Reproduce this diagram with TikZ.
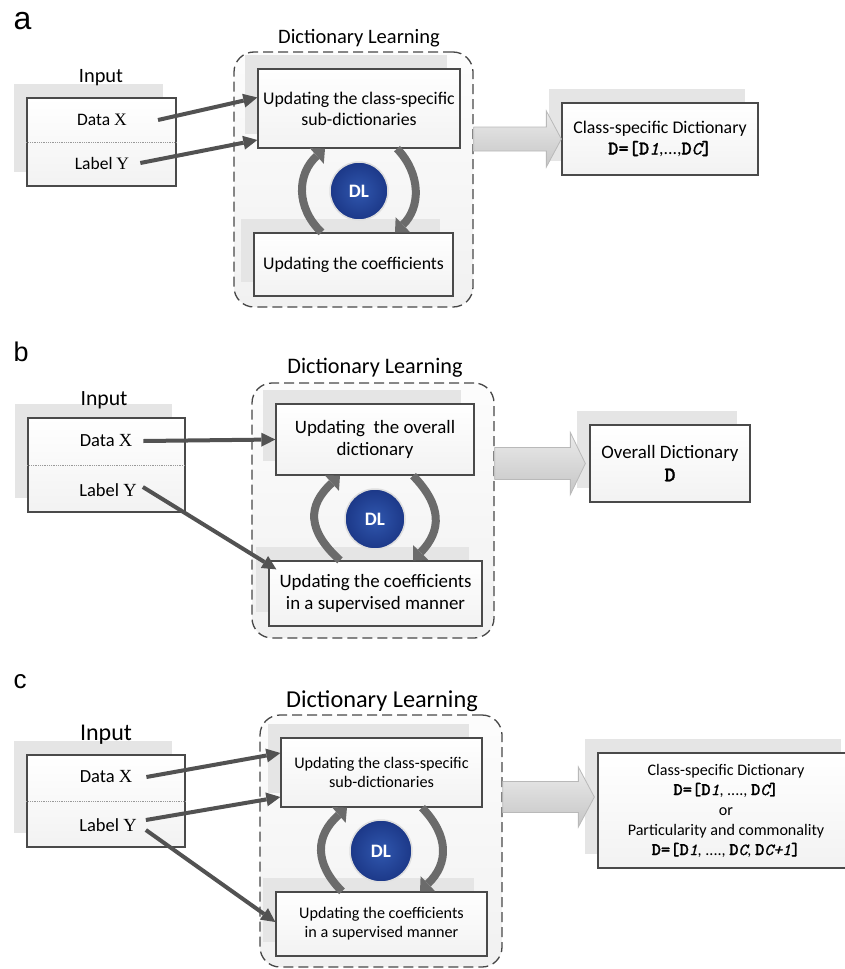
\documentclass[tikz,border=0pt]{standalone}
\usepackage{fontspec}
\setmainfont{Carlito}
\newfontfamily\arialf{Liberation Sans}
\newfontfamily\timesf{Liberation Serif}
\newfontfamily\monobf[FakeBold=1.2,Scale=1.1]{lmmonolt10-bold.otf}
\newfontfamily\monoit[FakeBold=1,Scale=1.05]{lmmono10-italic.otf}
\usetikzlibrary{shadows}
\usetikzlibrary{arrows.meta,calc}

\definecolor{dlin}{HTML}{3057AE}
\definecolor{dlout}{HTML}{1C3888}
\definecolor{boxline}{HTML}{4A4A4A}

\newcommand{\ttD}[1]{{\monobf #1}}
\newcommand{\ttI}[1]{{\monoit #1}}

% wide grey arrow: from frame #1 to tip #2, half body #3, half head #4, head length #5
\newcommand{\fatarrow}[5]{%
  \path[fatarr] let \p1=(#1.east), \p2=(#2) in
    (\x1,\y2+#3pt) -- (\x2-#5pt,\y2+#3pt) -- (\x2-#5pt,\y2+#4pt) -- (\x2,\y2)
    -- (\x2-#5pt,\y2-#4pt) -- (\x2-#5pt,\y2-#3pt) -- (\x1,\y2-#3pt) -- cycle;}

\tikzset{
  stepbox/.style={draw=boxline, line width=1.3pt, top color=white, bottom color=gray!10,
    align=center, inner sep=2pt,
    general shadow={fill=gray!20, shadow xshift=-13pt, shadow yshift=14pt}},
  dlframe/.style={draw=black!72, line width=1.3pt, dash pattern=on 10pt off 5pt,
    rounded corners=20pt, top color=gray!2, bottom color=gray!11},
  dlball/.style={circle, inner color=dlin, outer color=dlout, text=white,
    font=\bfseries\fontsize{19}{19}\selectfont, draw=gray!25, line width=1.5pt},
  feed/.style={draw=black!68, line width=4pt, -{Triangle[length=14pt,width=14pt,line width=0pt]}},
  loopar/.style={draw=black!58, line width=8pt, -{Triangle[length=11pt,width=21pt,line width=0pt]}},
  fatarr/.style={draw=gray!55, line width=0.8pt, top color=gray!16, bottom color=gray!45},
  divline/.style={densely dotted, draw=gray!80, line width=0.8pt},
  panel/.style={anchor=base west},
  title/.style={anchor=base},
  txt/.style={inner sep=1pt},
}

\begin{document}
\begin{tikzpicture}[x=1pt, y=-1pt]
\path[use as bounding box, fill=white] (0,0) rectangle (844,969);

% ---- a ----
\begin{scope}[font=\fontsize{17.8}{21}\selectfont]
\node[panel, font=\arialf\fontsize{32}{32}\selectfont] (laba) at (10,29) {a};
\node[dlframe, minimum width=239pt, minimum height=255pt] (dla) at (353.5,179.5) {};
\node[title, font=\fontsize{20.5}{24}\selectfont] (tta) at (359,43) {Dictionary Learning};
\node[stepbox, minimum width=202pt, minimum height=79pt] (upa) at (359,108.5) {Updating the class-specific\\sub-dictionaries};
\node[stepbox, minimum width=199pt, minimum height=63pt] (coa) at (353.5,264.5) {Updating the coefficients};
\node[dlball, minimum size=58pt] (dlca) at (359,191) {DL};
\draw[loopar] ([xshift=-32pt]coa.north) .. controls +(-26,-25) and +(-28,25) .. ([xshift=-34pt]upa.south);
\draw[loopar] ([xshift=38pt]upa.south) .. controls +(24,25) and +(26,-25) .. ([xshift=41.5pt]coa.north);

\node[stepbox, minimum width=149pt, minimum height=88pt] (ina) at (101.5,142) {};
\draw[divline] (ina.west) -- (ina.east);
\node[title, font=\fontsize{20.4}{24}\selectfont] (inta) at (101,82) {Input};
\node[txt, font=\fontsize{17.5}{21}\selectfont] (dxa) at (102,120) {Data {\timesf X}};
\node[txt, font=\fontsize{17.5}{21}\selectfont] (lya) at (102,163) {Label {\timesf Y}};
\draw[feed] ([xshift=30pt]dxa.east) -- ([yshift=11pt]upa.west);
\draw[feed] ([xshift=10pt]lya.east) -- ([yshift=-31.5pt]upa.west);

\node[stepbox, minimum width=196pt, minimum height=72pt] (outa) at (660,139) {Class-specific Dictionary\\ \ttD{D=[D}\ttI{1},...,\ttD{D}\ttI{C}\ttD{]}};
\fatarrow{dla}{outa.west}{12}{28}{15}
\end{scope}

% ---- b ----
\begin{scope}[font=\fontsize{18.9}{22.5}\selectfont]
\node[panel, font=\arialf\fontsize{27}{27}\selectfont] (labb) at (10,361) {b};
\node[dlframe, minimum width=242pt, minimum height=255pt] (dlb) at (373,510.5) {};
\node[title, font=\fontsize{22.2}{26}\selectfont] (ttb) at (375,373) {Dictionary Learning};
\node[stepbox, minimum width=198pt, minimum height=71pt] (upb) at (375,439.5) {Updating\ \ the overall\\dictionary};
\node[stepbox, minimum width=213pt, minimum height=65pt] (cob) at (375.5,593.5) {Updating the coefficients\\in a supervised manner};
\node[dlball, minimum size=60pt] (dlcb) at (375,519) {DL};
\draw[loopar] ([xshift=-35.5pt]cob.north) .. controls +(-33,-30) and +(-33,30) .. ([xshift=-35pt]upb.south);
\draw[loopar] ([xshift=38pt]upb.south) .. controls +(29,30) and +(29,-30) .. ([xshift=37.5pt]cob.north);

\node[stepbox, minimum width=157pt, minimum height=94pt] (inb) at (106.5,465) {};
\draw[divline] (inb.west) -- (inb.east);
\node[title, font=\fontsize{21.7}{26}\selectfont] (intb) at (104,405) {Input};
\node[txt, font=\fontsize{18.5}{22}\selectfont] (dxb) at (106,441) {Data {\timesf X}};
\node[txt, font=\fontsize{18.5}{22}\selectfont] (lyb) at (108,490) {Label {\timesf Y}};
\draw[feed] ([xshift=10pt]dxb.east) -- (upb.west);
\draw[feed] ([xshift=5pt,yshift=3pt]lyb.east) -- ([xshift=8pt,yshift=-9pt]cob.north west);

\node[stepbox, minimum width=160pt, minimum height=77pt] (outb) at (670,463.5) {Overall Dictionary\\ \ttD{D}};
\fatarrow{dlb}{[xshift=-4pt]outb.west}{16}{31}{15}
\end{scope}

% ---- c ----
\begin{scope}[font=\fontsize{16.2}{19}\selectfont]
\node[panel, font=\arialf\fontsize{26}{26}\selectfont] (labc) at (10,688) {c};
\node[dlframe, minimum width=242pt, minimum height=252pt] (dlc) at (381,841) {};
\node[title, font=\fontsize{24.3}{28}\selectfont] (ttc) at (382,707) {Dictionary Learning};
\node[stepbox, minimum width=201pt, minimum height=69pt] (upc) at (381.5,772.5) {Updating the class-specific\\sub-dictionaries};
\node[stepbox, minimum width=211pt, minimum height=64pt] (coc) at (381.5,924) {Updating the coefficients\\in a supervised manner};
\node[dlball, minimum size=62pt] (dlcc) at (381,851) {DL};
\draw[loopar] ([xshift=-39.5pt]coc.north) .. controls +(-28,-28) and +(-32,28) .. ([xshift=-34.5pt]upc.south);
\draw[loopar] ([xshift=40.5pt]upc.south) .. controls +(27,28) and +(29,-28) .. ([xshift=38.5pt]coc.north);

\node[stepbox, minimum width=158pt, minimum height=92pt] (inc) at (106,801) {};
\draw[divline] (inc.west) -- (inc.east);
\node[title, font=\fontsize{24}{28}\selectfont] (intc) at (106,740) {Input};
\node[txt, font=\fontsize{18.5}{22}\selectfont] (dxc) at (106,777) {Data {\timesf X}};
\node[txt, font=\fontsize{18.5}{22}\selectfont] (lyc) at (108,825) {Label {\timesf Y}};
\draw[feed] ([xshift=13pt]dxc.east) -- ([yshift=19.5pt]upc.west);
\draw[feed] ([xshift=8pt,yshift=5pt]lyc.east) -- ([yshift=-24.5pt]upc.west);
\draw[feed] ([xshift=8pt,yshift=-5pt]lyc.east) -- ([yshift=2pt]coc.west);

\node[stepbox, minimum width=256pt, minimum height=115pt, font=\fontsize{16.1}{20}\selectfont] (outc) at (726,810.5) {Class-specific Dictionary\\ \ttD{D=[D}\ttI{1}, ...., \ttD{D}\ttI{C}\ttD{]}\\or\\Particularity and commonality\\ \ttD{D=[D}\ttI{1}, ...., \ttD{D}\ttI{C}, \ttD{D}\ttI{C+1}\ttD{]}};
\fatarrow{dlc}{[xshift=-3pt,yshift=13.5pt]outc.west}{15.5}{30}{16}
\end{scope}

\end{tikzpicture}
\end{document}
